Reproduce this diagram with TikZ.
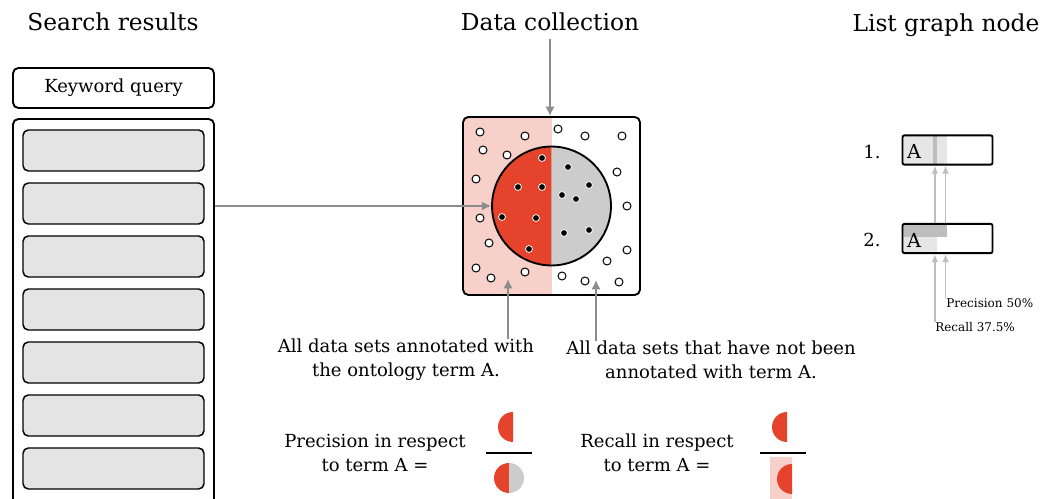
\documentclass[tikz,border=0pt]{standalone}
\usepackage{fontspec}
\setmainfont{DejaVu Serif}
\usepackage{xcolor}
\usepackage{tikz}
\usetikzlibrary{arrows.meta, positioning}

\definecolor{termred}{HTML}{E5432B}
\definecolor{termpink}{HTML}{F6D0C9}
\definecolor{othergray}{HTML}{CCCCCC}
\definecolor{barfill}{HTML}{E4E4E4}
\definecolor{linkgray}{HTML}{8C8C8C}
\definecolor{listgray}{HTML}{BDBDBD}
\definecolor{listlight}{HTML}{E6E6E6}

\begin{document}
\begin{tikzpicture}[x=0.75pt, y=-0.75pt,
        % text styles
        title/.style={font=\fontsize{17.5}{20}\selectfont, inner sep=0pt},
        caption/.style={font=\fontsize{13.5}{18}\selectfont, align=center, inner sep=0pt},
        small_text/.style={font=\fontsize{9}{10}\selectfont, inner sep=0pt, anchor=west},
        list_text/.style={font=\fontsize{14.5}{16}\selectfont, inner sep=0pt},
        % boxes
        panel/.style={rectangle, draw, line width=1.4pt, rounded corners=4pt, minimum width=150.75pt, inner sep=0pt},
        result_bar/.style={rectangle, draw, line width=1.1pt, fill=barfill, rounded corners=4pt, minimum width=135.75pt, minimum height=30.75pt, inner sep=0pt},
        list_box/.style={rectangle, draw, line width=1.4pt, rounded corners=1.5pt, minimum width=67.5pt, minimum height=22pt, inner sep=0pt},
        dot_in/.style={fill=black, draw=white, line width=0.6pt},
        dot_out/.style={fill=white, draw=black, line width=0.75pt},
        % connectors
        link/.style={draw=linkgray, line width=1.5pt, -{Latex[length=7pt, width=7pt]}},
        list_link/.style={draw=listgray, line width=1.1pt, -{Latex[length=6pt, width=5pt]}},
    ]
    \useasboundingbox (0,0) rectangle (1047,499);

    % Left side (search results)
    \node (search_title) [title] at (113,22) {Search results};
    \node (keyword_query) [panel, minimum height=30pt, font=\fontsize{13.5}{15}\selectfont] at (113.5,88) {Keyword query};
    \node (results_panel) [panel, minimum height=300.75pt] at (113.5,319.5) {};
    \foreach \i in {0,...,6}
        \node (bar\i) [result_bar] at (113.5,150.5+53*\i) {};

    % Data collection
    \node (data_title) [title] at (550,22) {Data collection};

    \begin{scope}
        \clip[rounded corners=4pt] (463,117) rectangle (640,295);
        \fill[termpink] (463,117) rectangle (551.5,295);
    \end{scope}
    \node (data_box) [rectangle, draw, line width=1.4pt, rounded corners=4pt, minimum width=132.75pt, minimum height=133.5pt, inner sep=0pt] at (551.5,206) {};

    \begin{scope}
        \clip (480,140) rectangle (551.5,275);
        \fill[termred] (551.5,206) circle[radius=44.6pt];
    \end{scope}
    \begin{scope}
        \clip (551.5,140) rectangle (620,275);
        \fill[othergray] (551.5,206) circle[radius=44.6pt];
    \end{scope}
    \node (data_circle) [circle, draw, line width=1.4pt, minimum size=89.2pt, inner sep=0pt] at (551.5,206) {};

    % data sets outside the result
    \foreach \p in {(480,132),(525,136),(483,150),(507,155),(476,179),(480,218),(489,243),(476,268),(491,278),(525,272),
                    (558,129),(585,136),(622,136),(617,172),(627,206),(627,250),(607,261),(562,276),(585,281),(619,282)}
        \fill[dot_out] \p circle[radius=3pt];
    % data sets in the result
    \foreach \p in {(542,158),(518,187),(542,187),(502,217),(536,218),(529,249),
                    (568,167),(589,185),(562,195),(576,199),(564,233),(589,230)}
        \fill[dot_in] \p circle[radius=2.6pt];

    % captions below the collection
    \node (annotated_text) [caption] at (406,360) {All data sets annotated with\\the ontology term A.};
    \node (other_text) [caption] at (711,360) {All data sets that have not been\\annotated with term A.};
    \coordinate (annotated_tip) at (508,279);
    \coordinate (other_tip) at (596,280);

    % fractions
    \node (precision_text) [caption] at (375,453) {Precision in respect\\to term A =};
    \node (recall_text) [caption] at (657,453) {Recall in respect\\to term A =};

    \draw[line width=1.6pt] (486,453) -- (532,453);
    \begin{scope}
        \clip (490,405) rectangle (513,450);
        \fill[termred] (513,427) circle[radius=11.25pt];
    \end{scope}
    \begin{scope}
        \clip (490,460) rectangle (509,499);
        \fill[termred] (509,478) circle[radius=11.25pt];
    \end{scope}
    \begin{scope}
        \clip (509,460) rectangle (530,499);
        \fill[othergray] (509,478) circle[radius=11.25pt];
    \end{scope}

    \draw[line width=1.6pt] (760,453) -- (806,453);
    \begin{scope}
        \clip (765,405) rectangle (787,450);
        \fill[termred] (787,427) circle[radius=11.25pt];
    \end{scope}
    \fill[termpink] (770,457) rectangle (792,505);
    \begin{scope}
        \clip (765,460) rectangle (792,499);
        \fill[termred] (792,479) circle[radius=11.25pt];
    \end{scope}

    % List graph node
    \node (list_title) [title] at (946,25) {List graph node};

    \fill[listlight] (903,136) rectangle (947,164);
    \fill[listgray] (933,136) rectangle (937,164);
    \node (list_one) [list_box] at (947.5,150) {};
    \node (list_one_term) [list_text] at (914,151) {A};
    \node (list_one_rank) [list_text, font=\fontsize{13.5}{15}\selectfont] at (872,152) {1.};

    \fill[listgray] (903,224) rectangle (947,237);
    \fill[listlight] (903,237) rectangle (937,252);
    \node (list_two) [list_box] at (947.5,238.5) {};
    \node (list_two_term) [list_text] at (914,240) {A};
    \node (list_two_rank) [list_text, font=\fontsize{13.5}{15}\selectfont] at (872,240) {2.};

    \node (precision_label) [small_text] at (946,303) {Precision 50\%};
    \node (recall_label) [small_text] at (935,327) {Recall 37.5\%};

    % connectors
    \draw[link] (results_panel.east |- data_circle.west) -- (data_circle.west);
    \draw[link] (data_title.south) ++(0,8) -- (data_title.south |- data_box.north);
    \draw[link] (annotated_text.north -| annotated_tip) -- (annotated_tip);
    \draw[link] (other_text.north -| other_tip) -- (other_tip);

    \draw[list_link] ([xshift=25pt]list_two.north west) -- ([xshift=25pt]list_one.south west);
    \draw[list_link] ([xshift=33pt]list_two.north west) -- ([xshift=33pt]list_one.south west);
    \draw[list_link] ([xshift=25pt]list_two.south west |- recall_label.north) -- ([xshift=25pt]list_two.south west);
    \draw[list_link] ([xshift=33pt]list_two.south west |- precision_label.north) -- ([xshift=33pt]list_two.south west);
\end{tikzpicture}
\end{document}
